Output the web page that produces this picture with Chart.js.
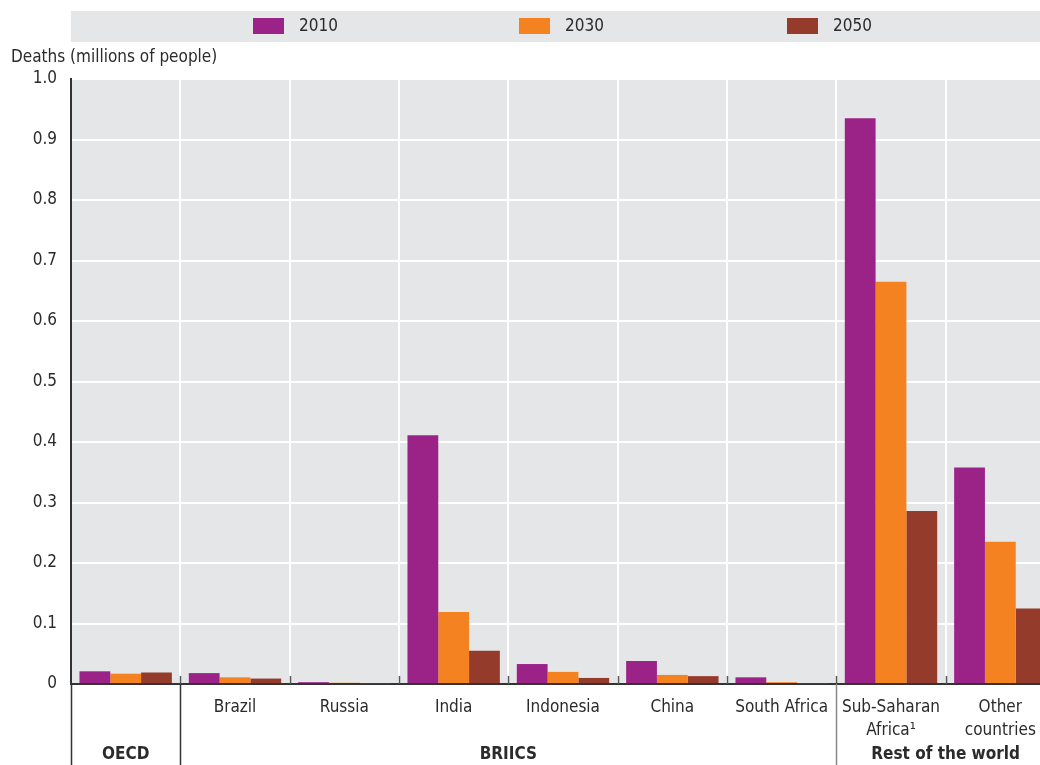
<!DOCTYPE html>
<html>
<head>
<meta charset="utf-8">
<script src="https://cdn.jsdelivr.net/npm/chart.js@4.4.0/dist/chart.umd.min.js"></script>
<style>
  body { margin: 0; background: #fff; overflow: hidden; }
  #wrap { width: 1040px; height: 765px; overflow: hidden; }
</style>
</head>
<body>
<!-- the plot runs past the right edge in the original, so the canvas is wider and clipped -->
<div id="wrap"><canvas id="deathsChart" width="1055" height="765"></canvas></div>
<script>
// categories and groups
var categories = ['', 'Brazil', 'Russia', 'India', 'Indonesia', 'China', 'South Africa', ['Sub-Saharan', 'Africa\u00b9'], ['Other', 'countries']];
var groupNames = ['OECD', 'BRIICS', 'Rest of the world'];
var groupOf = [0, 1, 1, 1, 1, 1, 1, 2, 2];

// deaths, millions of people
var deaths2010 = [0.021, 0.018, 0.003, 0.411, 0.033, 0.038, 0.011, 0.935, 0.358];
var deaths2030 = [0.017, 0.011, 0.002, 0.119, 0.020, 0.015, 0.003, 0.665, 0.235];
var deaths2050 = [0.019, 0.009, 0.001, 0.055, 0.010, 0.013, 0.001, 0.286, 0.125];

var yTicks = [0, 0.1, 0.2, 0.3, 0.4, 0.5, 0.6, 0.7, 0.8, 0.9, 1.0];

var FONT = "'Liberation Sans Narrow', 'DejaVu Sans Condensed', 'Arial Narrow', sans-serif";
var TEXT = '#2b2b2b';

var extrasPlugin = {
    id: 'extras',
    beforeDraw: function(chart) {
        var ctx = chart.ctx;
        var area = chart.chartArea;
        ctx.save();
        // plot background
        ctx.fillStyle = '#e5e6e8';
        ctx.fillRect(area.left, area.top, area.right - area.left, area.bottom - area.top);
        // legend band
        ctx.fillRect(area.left, 11, chart.width - area.left, 31);
        ctx.restore();
    },
    afterDraw: function(chart) {
        var ctx = chart.ctx;
        var area = chart.chartArea;
        var x = chart.scales.x;
        ctx.save();

        // legend
        var legendX = [253, 519, 787];
        chart.data.datasets.forEach(function(ds, i) {
            ctx.fillStyle = ds.backgroundColor;
            ctx.fillRect(legendX[i], 18, 31, 16);
            ctx.fillStyle = TEXT;
            ctx.font = '17px ' + FONT;
            ctx.textBaseline = 'middle';
            ctx.textAlign = 'left';
            ctx.fillText(ds.label, legendX[i] + 46, 27);
        });

        // y axis title
        ctx.fillStyle = TEXT;
        ctx.font = '17px ' + FONT;
        ctx.textAlign = 'left';
        ctx.textBaseline = 'middle';
        ctx.fillText('Deaths (millions of people)', 11, 58);

        // group separators below the axis
        var bottom = chart.height;
        var step = x.getPixelForValue(1) - x.getPixelForValue(0);
        for (var i = 1; i < groupOf.length; i++) {
            if (groupOf[i] !== groupOf[i - 1]) {
                var sx = Math.round(x.getPixelForValue(i) - step / 2) + 0.5;
                ctx.strokeStyle = groupOf[i] === 2 ? '#8a8a8a' : '#333333';
                ctx.lineWidth = 1.5;
                ctx.beginPath();
                ctx.moveTo(sx, area.bottom);
                ctx.lineTo(sx, bottom);
                ctx.stroke();
            }
        }
        ctx.strokeStyle = '#333333';
        ctx.lineWidth = 1.5;
        ctx.beginPath();
        ctx.moveTo(area.left + 0.5, area.bottom);
        ctx.lineTo(area.left + 0.5, bottom);
        ctx.stroke();

        // small ticks above the axis at category boundaries
        ctx.strokeStyle = '#555555';
        ctx.lineWidth = 1.5;
        for (var j = 1; j < categories.length; j++) {
            var tx = Math.round(x.getPixelForValue(j) - step / 2) + 0.5;
            ctx.beginPath();
            ctx.moveTo(tx, area.bottom - 8);
            ctx.lineTo(tx, area.bottom);
            ctx.stroke();
        }

        // group labels
        ctx.fillStyle = TEXT;
        ctx.font = 'bold 17px ' + FONT;
        ctx.textAlign = 'center';
        ctx.textBaseline = 'middle';
        groupNames.forEach(function(name, g) {
            var sum = 0, n = 0;
            groupOf.forEach(function(gg, k) {
                if (gg === g) { sum += x.getPixelForValue(k); n++; }
            });
            ctx.fillText(name, sum / n, 755);
        });

        ctx.restore();
    }
};

var chart = new Chart(document.getElementById('deathsChart').getContext('2d'), {
    type: 'bar',
    data: {
        labels: categories,
        datasets: [
            { label: '2010', data: deaths2010, backgroundColor: '#9b2388' },
            { label: '2030', data: deaths2030, backgroundColor: '#f58220' },
            { label: '2050', data: deaths2050, backgroundColor: '#943b2b' }
        ]
    },
    options: {
        responsive: false,
        animation: false,
        layout: { padding: { top: 79, right: 0, left: 0, bottom: 0 } },
        datasets: {
            bar: { categoryPercentage: 0.845, barPercentage: 1.0 }
        },
        plugins: {
            legend: { display: false },
            tooltip: { enabled: false }
        },
        scales: {
            x: {
                grid: { color: '#ffffff', lineWidth: 2, drawTicks: false, offset: true },
                border: { color: '#333333', width: 2 },
                ticks: {
                    color: TEXT,
                    font: { family: FONT, size: 17, lineHeight: 1.3 },
                    padding: 13,
                    maxRotation: 0,
                    autoSkip: false
                },
                afterFit: function(scale) { scale.height = 81; }
            },
            y: {
                min: 0,
                max: 1,
                afterBuildTicks: function(scale) {
                    scale.ticks = yTicks.map(function(v) { return { value: v }; });
                },
                grid: { color: '#ffffff', lineWidth: 2, drawTicks: false },
                border: { color: '#333333', width: 2 },
                ticks: {
                    color: TEXT,
                    font: { family: FONT, size: 17 },
                    padding: 14,
                    callback: function(v) { return v === 0 ? '0' : v.toFixed(1); }
                },
                afterFit: function(scale) { scale.width = 71; }
            }
        }
    },
    plugins: [extrasPlugin]
});
</script>
</body>
</html>
